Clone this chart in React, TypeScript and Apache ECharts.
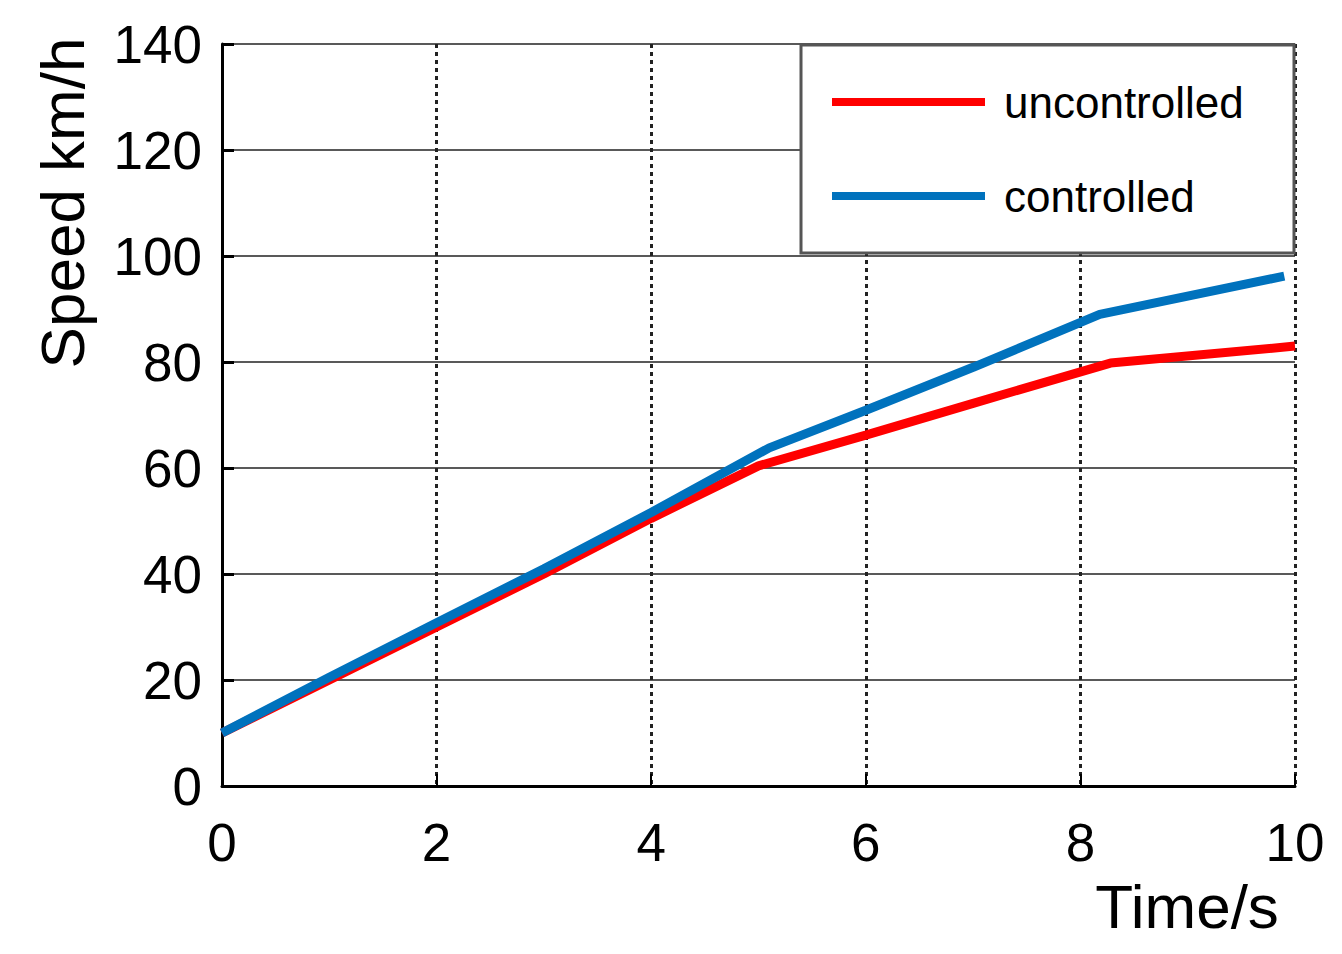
import React, { useEffect, useRef } from "react";
import * as echarts from "echarts";

const uncontrolledData: [number, number][] = [
  [0, 10], [1, 20], [2, 30], [3, 40], [4, 50.5], [5, 60.4], [6, 66.2], [7, 72.2], [8.28, 79.8], [10, 83],
];
const controlledData: [number, number][] = [
  [0, 10], [1, 20.5], [2, 30.8], [3, 41], [4, 51.6], [5.1, 63.8], [6, 70.9], [7, 79], [8.18, 89], [9.9, 96.2],
];
const seriesNames = ["uncontrolled", "controlled"];
const xTitle = "Time/s";
const yTitle = "Speed km/h";

const FONT = "'Liberation Sans', Arial, sans-serif";

export default function App() {
  const ref = useRef<HTMLDivElement>(null);
  useEffect(() => {
    if (!ref.current) return;
    const chart = echarts.init(ref.current, undefined, { renderer: "svg" });
    chart.setOption({
      animation: false,
      backgroundColor: "#ffffff",
      grid: { left: 222, right: 47, top: 44, bottom: 168, containLabel: false },
      xAxis: {
        type: "value",
        min: 0,
        max: 10,
        interval: 2,
        axisLine: { show: true, onZero: false, lineStyle: { color: "#000", width: 3 } },
        axisTick: { show: true, inside: true, length: 12, lineStyle: { color: "#000", width: 2 } },
        axisLabel: { color: "#000", fontSize: 53, fontFamily: FONT, margin: 30 },
        splitLine: { show: true, lineStyle: { color: "#222", width: 3, type: [4, 4] } },
      },
      yAxis: {
        type: "value",
        min: 0,
        max: 140,
        interval: 20,
        axisLine: { show: true, onZero: false, lineStyle: { color: "#000", width: 3 } },
        axisTick: { show: true, inside: true, length: 12, lineStyle: { color: "#000", width: 3 } },
        axisLabel: { color: "#000", fontSize: 53, fontFamily: FONT, margin: 20 },
        splitLine: { show: true, lineStyle: { color: "#222", width: 1.5, type: "solid" } },
      },
      legend: {
        orient: "vertical",
        left: 832,
        top: 77,
        padding: 0,
        z: 20,
        itemGap: 44,
        itemWidth: 153,
        itemHeight: 8,
        icon: "rect",
        textStyle: { color: "#000", fontSize: 44, fontFamily: FONT, lineHeight: 50, padding: [0, 0, 0, 14] },
        data: seriesNames,
      },
      graphic: [
        {
          type: "rect",
          shape: { x: 801, y: 45, width: 493, height: 208 },
          style: { fill: "#fff", stroke: "#555", lineWidth: 3 },
          z: 2,
        },
        {
          type: "text",
          x: 62,
          y: 203,
          rotation: Math.PI / 2,
          style: { text: yTitle, fill: "#000", fontSize: 62, fontFamily: FONT, textAlign: "center", textVerticalAlign: "middle" },
        },
        {
          type: "text",
          x: 1187,
          y: 906,
          style: { text: xTitle, fill: "#000", fontSize: 62, fontFamily: FONT, textAlign: "center", textVerticalAlign: "middle" },
        },
      ],
      series: [
        {
          name: seriesNames[0],
          type: "line",
          data: uncontrolledData,
          symbol: "none",
          lineStyle: { color: "#ff0000", width: 9 },
          itemStyle: { color: "#ff0000" },
          z: 3,
        },
        {
          name: seriesNames[1],
          type: "line",
          data: controlledData,
          symbol: "none",
          lineStyle: { color: "#0072bd", width: 9 },
          itemStyle: { color: "#0072bd" },
          z: 4,
        },
      ],
    });
    return () => chart.dispose();
  }, []);
  return <div ref={ref} style={{ width: 1342, height: 954, position: "absolute", left: 0, top: 0 }} />;
}
